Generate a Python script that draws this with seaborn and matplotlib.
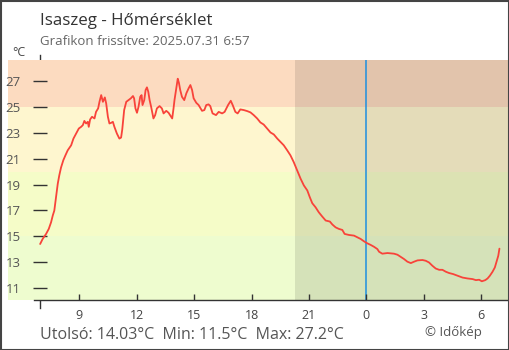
import matplotlib
matplotlib.use("Agg")
import matplotlib.pyplot as plt
import matplotlib.patches as mpatches
import numpy as np
import pandas as pd
import seaborn as sns

# Temperature log: hours counted from midnight of the first day
hours = [
    6.95, 7.08, 7.26, 7.40, 7.52, 7.61, 7.69, 7.78, 7.87, 7.95, 8.04, 8.16, 8.27, 8.39,
    8.57, 8.69, 8.83, 8.97, 9.09, 9.18, 9.26, 9.35, 9.44, 9.49, 9.56, 9.66, 9.79, 9.87,
    9.98, 10.05, 10.14, 10.23, 10.33, 10.40, 10.49, 10.57, 10.66, 10.75, 10.83, 10.96,
    11.09, 11.18, 11.24, 11.29, 11.34, 11.45, 11.57, 11.69, 11.80, 11.86, 11.93, 12.01,
    12.09, 12.18, 12.25, 12.30, 12.39, 12.46, 12.53, 12.60, 12.67, 12.75, 12.87, 12.96,
    13.05, 13.19, 13.31, 13.40, 13.54, 13.66, 13.79, 13.85, 13.92, 13.97, 14.05, 14.14,
    14.20, 14.27, 14.36, 14.48, 14.59, 14.71, 14.80, 14.89, 14.97, 15.11, 15.23, 15.41,
    15.53, 15.63, 15.75, 15.84, 15.96, 16.14, 16.28, 16.46, 16.59, 16.77, 16.91, 17.01,
    17.15, 17.27, 17.41, 17.59, 17.77, 17.94, 18.11, 18.29, 18.46, 18.63, 18.81, 18.99,
    19.16, 19.34, 19.51, 19.68, 19.86, 20.03, 20.20, 20.38, 20.56, 20.73, 20.91, 21.04,
    21.17, 21.34, 21.51, 21.69, 21.87, 22.09, 22.22, 22.39, 22.56, 22.74, 22.86, 23.09,
    23.35, 23.52, 23.70, 23.87, 24.05, 24.22, 24.39, 24.57, 24.66, 24.83, 25.10, 25.44,
    25.62, 25.79, 25.96, 26.14, 26.32, 26.49, 26.67, 26.93, 27.10, 27.27, 27.45, 27.62,
    27.80, 27.97, 28.15, 28.32, 28.53, 28.76, 29.02, 29.28, 29.55, 29.72, 29.89, 30.03,
    30.21, 30.33, 30.45, 30.59, 30.71, 30.80, 30.89, 30.95,
]
temps = [
    14.39, 14.78, 15.17, 15.56, 16.07, 16.60, 16.98, 18.02, 19.06, 19.71, 20.31, 20.88, 21.26, 21.65,
    22.04, 22.56, 22.95, 23.34, 23.47, 23.60, 23.93, 23.73, 23.86, 23.47, 24.04, 24.25, 24.12, 24.63,
    24.90, 25.41, 25.93, 25.41, 25.75, 25.29, 24.25, 23.73, 23.78, 23.86, 23.47, 22.95,
    22.56, 22.64, 23.26, 23.99, 24.77, 25.41, 25.54, 25.68, 25.86, 25.68, 24.90, 24.56,
    25.02, 25.80, 25.93, 25.16, 25.54, 26.32, 26.53, 26.19, 25.54, 25.02, 24.12, 24.38,
    24.90, 25.08, 24.90, 24.51, 24.71, 24.56, 24.25, 24.12, 24.90, 25.54, 26.32, 27.20,
    26.89, 26.32, 25.80, 25.54, 26.07, 26.46, 26.71, 26.32, 25.68, 25.33, 25.16, 24.71,
    24.77, 25.16, 25.21, 25.08, 24.51, 24.38, 24.63, 24.51, 24.63, 25.16, 25.49, 25.16,
    24.63, 24.51, 24.82, 24.77, 24.69, 24.59, 24.38, 24.12, 23.81, 23.65, 23.34, 23.03,
    22.88, 22.56, 22.30, 22.04, 21.65, 21.26, 20.74, 20.10, 19.45, 18.93, 18.54, 18.02,
    17.55, 17.24, 16.85, 16.52, 16.21, 16.13, 15.90, 15.68, 15.56, 15.48, 15.17, 15.09,
    15.04, 14.91, 14.78, 14.60, 14.44, 14.32, 14.18, 14.00, 13.79, 13.64, 13.69, 13.64,
    13.56, 13.40, 13.23, 13.02, 12.91, 13.02, 13.12, 13.15, 13.09, 12.96, 12.70, 12.49,
    12.39, 12.39, 12.24, 12.14, 12.06, 11.93, 11.79, 11.72, 11.67, 11.59, 11.62, 11.50,
    11.59, 11.72, 11.93, 12.24, 12.57, 13.02, 13.48, 14.03,
]

# Comfort bands (lower, upper, colour)
band_edges = [10.05, 15, 20, 25, 28.65]
band_colors = ["#eefccf", "#f5fcc8", "#fef6cf", "#fcdbc0"]

y_ticks = [11, 13, 15, 17, 19, 21, 23, 25, 27]
x_ticks = [9, 12, 15, 18, 21, 24, 27, 30]
x_tick_labels = ["9", "12", "15", "18", "21", "0", "3", "6"]

sunset = 20.28
midnight = 24
x_range = (5.27, 31.45)

title = "Isaszeg - Hőmérséklet"
subtitle = "Grafikon frissítve: 2025.07.31 6:57"
summary = "Utolsó: 14.03°C  Min: 11.5°C  Max: 27.2°C"
credit = "© Időkép"

sns.set_style("white")
plt.rcParams["font.family"] = ["Open Sans", "DejaVu Sans"]

W, H = 510, 350
fig = plt.figure(figsize=(W / 100, H / 100), dpi=100)
ax = fig.add_axes([8 / W, 50 / H, 501 / W, 240 / H])
ax.set_axisbelow(False)
ax.set_xlim(*x_range)
ax.set_ylim(band_edges[0], band_edges[-1])

for lo, hi, c in zip(band_edges[:-1], band_edges[1:], band_colors):
    ax.axhspan(lo, hi, color=c, lw=0, zorder=1)

# night shading after sunset
ax.axvspan(sunset, x_range[1], color="black", alpha=0.1, lw=0, zorder=1.5)
ax.axvline(midnight, color="#1e8fe0", lw=1.1, zorder=2)

df = pd.DataFrame({"hour": hours, "temp": temps})
sns.lineplot(data=df, x="hour", y="temp", ax=ax, color="#f8433a", lw=1.3, zorder=3)
ax.set_xlabel("")
ax.set_ylabel("")

# axes styling
for s in ["top", "right"]:
    ax.spines[s].set_visible(False)
ax.spines["left"].set_position(("data", hours[0]))
ax.spines["left"].set_bounds(9.44, 29.05)
ax.spines["left"].set_color("#333333")
ax.spines["left"].set_linewidth(1)
ax.spines["left"].set_zorder(0.5)
ax.spines["bottom"].set_bounds(6.64, x_range[1])
ax.spines["bottom"].set_color("#333333")
ax.spines["bottom"].set_linewidth(1)

ax.set_yticks(y_ticks)
ax.set_yticklabels([str(v) for v in y_ticks])
ax.tick_params(axis="y", direction="inout", length=9.4, width=1, color="#333333",
               labelsize=9.5, labelcolor="#555555", pad=9.5, left=True)
ax.set_xticks(x_ticks)
ax.set_xticklabels(x_tick_labels)
ax.tick_params(axis="x", direction="in", length=4.3, width=1, color="#333333",
               labelsize=9, labelcolor="#444444", pad=6.5, bottom=True)

fig.text(40 / W, 1 - 25 / H, title, fontsize=12.2, color="#333333", va="baseline")
fig.text(40 / W, 1 - 45 / H, subtitle, fontsize=9.5, color="#666666", va="baseline")
fig.text(12 / W, 1 - 56.5 / H, "°C", fontsize=9, color="#444444", va="baseline")
fig.text(40 / W, 1 - 339 / H, summary, fontsize=11.5, color="#555555", va="baseline")
fig.text(482 / W, 1 - 335.7 / H, credit, fontsize=9.5, color="#555555", va="baseline", ha="right")

fig.patches.append(mpatches.Rectangle((0.5 / W, 0.5 / H), 1 - 1.5 / W, 1 - 1.5 / H,
                                      transform=fig.transFigure, fill=False,
                                      edgecolor="#444444", lw=1.5))

fig.savefig("out.png", dpi=100)
